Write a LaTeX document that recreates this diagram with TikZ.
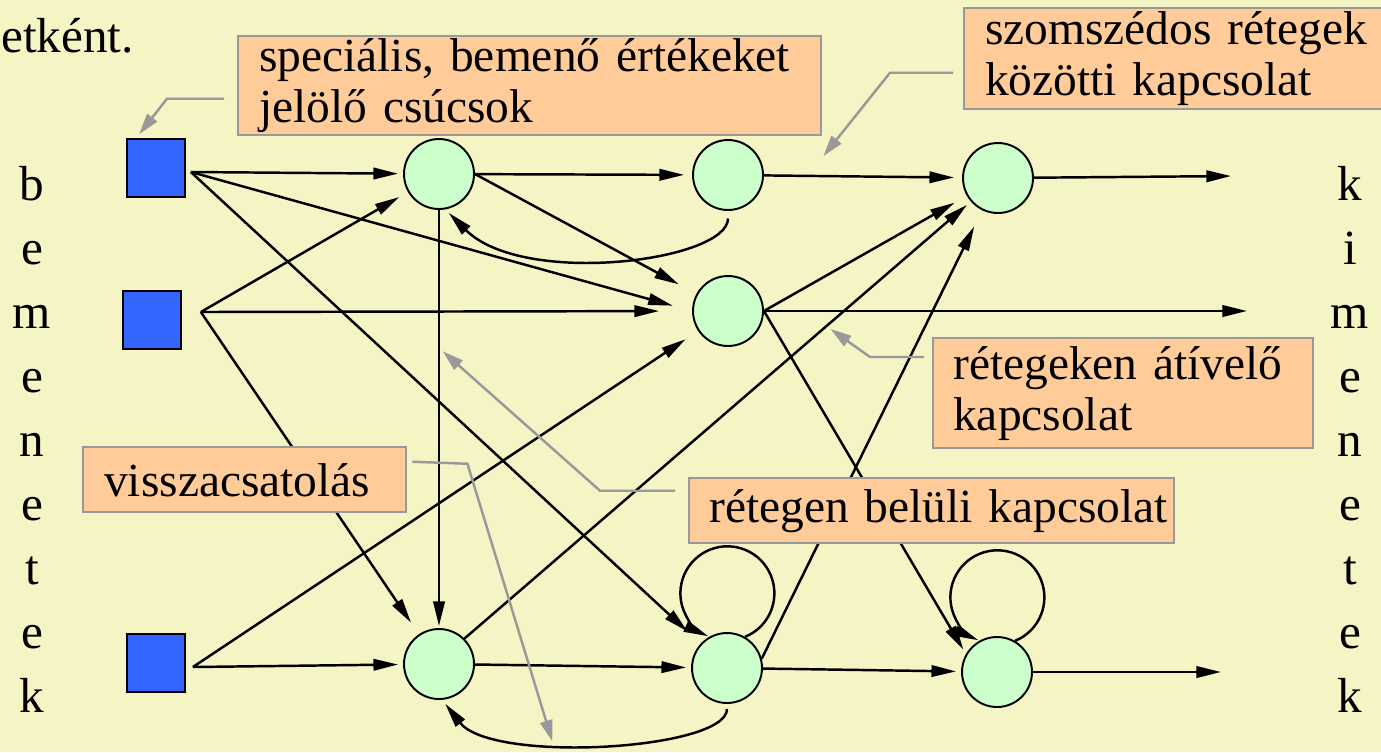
\documentclass[tikz,border=0pt]{standalone}
\usepackage{fontspec}
\setmainfont{Liberation Serif}
\usepackage{tikz}
\usetikzlibrary{arrows.meta}
\usetikzlibrary{calc}
\definecolor{hatter}{HTML}{F4F4C4}
\definecolor{doboz}{HTML}{FFCC99}
\definecolor{csucs}{HTML}{CCFFCC}
\definecolor{bemenet}{HTML}{3366FF}
\definecolor{keret}{HTML}{999999}

\begin{document}
\begin{tikzpicture}[x=0.02cm, y=-0.02cm,
    neuron/.style={circle, draw, line width=1.1pt, fill=csucs, minimum size=1.4cm, inner sep=0pt},
    bemeno/.style={rectangle, draw, line width=1pt, fill=bemenet, minimum size=1.16cm, inner sep=0pt},
    kapcs/.style={line width=1.4pt, -{Triangle[length=14pt,width=6.5pt]}, shorten >=0.1cm},
    magyaraz/.style={rectangle, draw=keret, line width=1.4pt, fill=doboz, anchor=north west,
      align=left, font=\fontsize{27}{29}\selectfont, inner xsep=0.42cm, inner ysep=0pt},
    mutato/.style={draw=keret, line width=1.4pt, -{Triangle[length=12pt,width=7pt]}},
    betu/.style={anchor=base, font=\fontsize{28}{30}\selectfont}]

    \fill [hatter] (0,0) rectangle (1381,752);
    \useasboundingbox (0,0) rectangle (1381,752);

    \node [anchor=base west, inner sep=0pt, font=\fontsize{28}{30}\selectfont] (cim) at (1,52) {etként.};

    % bemenetek / kimenetek
    \foreach \b [count=\i from 0] in {b,e,m,e,n,e,t,e,k}
      \node [betu] (be\i) at (32,200+64*\i) {\b};
    \foreach \b [count=\i from 0] in {k,i,m,e,n,e,t,e,k}
      \node [betu] (ki\i) at (1350,200+64*\i) {\b};

    % csucsok
    \node [bemeno] (S1) at (156,168) {};
    \node [bemeno] (S2) at (152,320) {};
    \node [bemeno] (S3) at (156,663) {};

    \node [neuron] (A1) at (439,174) {};
    \node [neuron] (A2) at (728,175) {};
    \node [neuron] (A3) at (998,178) {};
    \node [neuron] (B2) at (728,311) {};
    \node [neuron] (C1) at (439,664) {};
    \node [neuron] (C2) at (727,668) {};
    \node [neuron] (C3) at (997,672) {};

    \coordinate (kimA) at (1236,176);
    \coordinate (kimB) at (1252,311);
    \coordinate (kimC) at (1226,672);

    % kapcsolatok
    \draw [kapcs] ([xshift=0.1cm,yshift=-0.08cm]S1.east) -- (A1);
    \draw [kapcs, shorten >=0.4cm] ([xshift=0.1cm,yshift=-0.08cm]S1.east) -- (B2.west);
    \draw [kapcs, shorten >=0.36cm] ([xshift=0.1cm,yshift=-0.08cm]S1.east) -- (C2);
    \draw [kapcs, shorten >=0.2cm] ([xshift=0.38cm,yshift=0.16cm]S2.east) -- (A1);
    \draw [kapcs, shorten >=0.66cm] ([xshift=0.38cm,yshift=0.16cm]S2.east) -- (B2.west);
    \draw [kapcs, shorten >=0.28cm] ([xshift=0.38cm,yshift=0.16cm]S2.east) -- (C1);
    \draw [kapcs] ([xshift=0.14cm,yshift=-0.08cm]S3.east) -- (C1);
    \draw [kapcs, shorten >=0.3cm] ([xshift=0.14cm,yshift=-0.08cm]S3.east) -- (B2);

    \draw [kapcs, shorten >=0.16cm] (A1) -- (A2);
    \draw [kapcs, shorten >=0.4cm] (A1.east) -- (B2);
    \draw [kapcs, shorten >=0.04cm] (A1) -- node [coordinate, pos=0.33] (belulpt) {} (C1);
    \draw [kapcs, shorten <=0.15cm] (A2.south) .. controls +(0,50) and +(78,78) .. (A1.-80);
    \draw [kapcs, shorten >=0.16cm] (A2) -- node [coordinate, pos=0.3] (szompt) {} (A3);
    \draw [kapcs] (A3) -- (kimA);

    \draw [kapcs] (B2) -- (kimB);
    \draw [kapcs, shorten >=0.28cm] (B2.east) -- (A3);
    \draw [kapcs] (B2.east) -- (C3.150);

    \draw [kapcs] (C1.45) -- node [coordinate, pos=0.715] (atvpt) {} (A3);
    \draw [kapcs] (C1) -- (C2);
    \draw [kapcs, shorten >=0.36cm] (C2.15) -- (A3);
    \draw [kapcs, shorten <=0.1cm] (C2.south) .. controls +(0,46) and +(50,64) .. (C1.-85)
      node [coordinate, pos=0.63] (visszapt) {};
    \draw [kapcs] (C2) -- (C3);
    \draw [kapcs] (C3) -- (kimC);

    % hurkok
    \draw [kapcs, shorten >=0pt] (C2.60) arc [start angle=-68, end angle=246, radius=0.94cm];
    \draw [kapcs, shorten >=0pt] (C3.60) arc [start angle=-68, end angle=246, radius=0.94cm];

    % magyarazatok
    \node [magyaraz, text width=10.82cm, minimum height=1.98cm] (spec) at (237,35)
      {speciális, bemenő értékeket\\jelölő csúcsok};
    \node [magyaraz, text width=7.8cm, minimum height=2.02cm] (szom) at (963,7)
      {szomszédos rétegek\\közötti kapcsolat};
    \node [magyaraz, text width=6.8cm, inner xsep=0.4cm, minimum height=2.2cm] (atv) at (932,337)
      {rétegeken átívelő\\kapcsolat};
    \node [magyaraz, text width=5.62cm, minimum height=1.3cm] (vissza) at (82,446)
      {visszacsatolás};
    \node [magyaraz, text width=8.9cm, inner xsep=0.4cm, minimum height=1.3cm] (belul) at (688,477)
      {\mbox{rétegen belüli kapcsolat}};

    \draw [mutato, shorten >=0.1cm] ($(spec.west)+(-13,13)$) -- ++(-57,0) -- ([xshift=0.2cm]S1.north west);
    \draw [mutato] ($(szom.west)+(-10,14)$) -- ++(-63,0) -- ([yshift=0.4cm]szompt);
    \draw [mutato, shorten >=0.1cm] ($(atv.north west)+(-8,20)$) -- ++(-54,0) -- (atvpt);
    \draw [mutato] ($(vissza.east)+(5,-18)$) -- ++(55,2) -- (visszapt);
    \draw [mutato, shorten >=0.1cm] ($(belul.west)+(-13,-20)$) -- ++(-75,0) -- (belulpt);
  \end{tikzpicture}
\end{document}
